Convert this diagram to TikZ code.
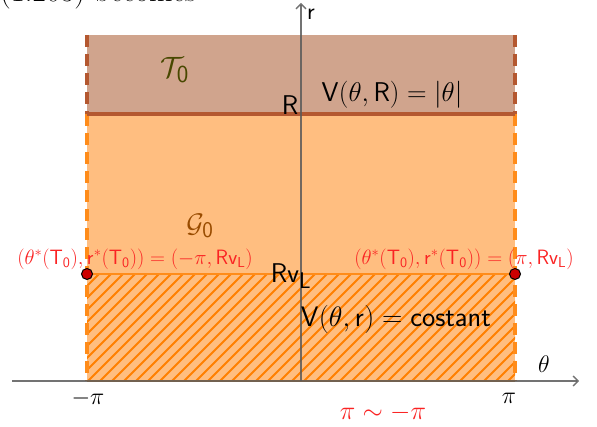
\documentclass[tikz,border=0pt]{standalone}
\usetikzlibrary{arrows.meta}
\definecolor{tfill}{RGB}{208,164,141}
\definecolor{tline}{RGB}{180,88,48}
\definecolor{gfill}{RGB}{255,190,128}
\definecolor{oline}{RGB}{255,140,26}
\definecolor{hatchc}{RGB}{255,128,0}
\definecolor{tlab}{RGB}{72,72,0}
\definecolor{glab}{RGB}{153,76,0}
\definecolor{redlab}{RGB}{250,35,35}
\definecolor{dotc}{RGB}{204,0,0}
\definecolor{axisc}{RGB}{90,90,90}
\tikzset{
  axis/.style={draw=axisc, line width=1.3pt, opacity=0.85, -{Straight Barb[length=5pt,width=10pt]}},
  tdash/.style={draw=tline, line width=3.6pt, dash pattern=on 12pt off 7pt},
  odash/.style={draw=oline, line width=3.6pt, dash pattern=on 12pt off 7pt},
  hatch/.style={draw=hatchc, line width=1.8pt},
  big/.style={font=\fontsize{24.88}{30}\selectfont, inner sep=0pt},
  blk/.style={big, scale=1.09},
  axl/.style={big, scale=0.965},
  redt/.style={font=\fontsize{20.74}{25}\selectfont, text=redlab, inner sep=0pt},
  dot/.style={circle, fill=dotc, draw=black, line width=1pt, minimum size=11pt, inner sep=0pt},
}
\begin{document}
\begin{tikzpicture}[x=1pt,y=-1pt]
\useasboundingbox (0,0) rectangle (597,427);
% clipped text at top
\begin{scope}
\clip (0,0) rectangle (597,427);
\node[big, anchor=base west, scale=1.22] (top) at (0,2) {(1.203) becomes};
\end{scope}
% regions
\fill[tfill] (87,35) rectangle (515,114);
\fill[gfill] (87,114) rectangle (515,381);
\begin{scope}
\clip (87,274) rectangle (515,381);
\foreach \i in {0,...,46} \draw[hatch] ({87+12*\i-107},381) -- ++(107,-107);
\end{scope}
% coordinates
\coordinate (TL) at (87,35);
\coordinate (TR) at (515,35);
\coordinate (RL) at (87,114);
\coordinate (RR) at (515,114);
\coordinate (VL) at (87,274);
\coordinate (VR) at (515,274);
\coordinate (BL) at (87,381);
\coordinate (BR) at (515,381);
% borders
\draw[tdash] (TL) -- (RL);
\draw[tdash] (TR) -- (RR);
\draw[odash] (RL) -- (BL);
\draw[odash] (RR) -- (BR);
\draw[oline, line width=2.2pt] (VL) -- (VR);
\draw[oline, line width=2.2pt] (BL) -- (BR);
\draw[tline, line width=3.6pt] (RL) -- (RR);
% axes
\coordinate (xs) at (12,381);
\coordinate (xe) at (579,381);
\coordinate (ys) at (301,381);
\coordinate (ye) at (301,3);
\draw[axis] (xs) -- (xe);
\draw[axis] (ys) -- (ye);
% dots
\node[dot] (d1) at (VL) {};
\node[dot] (d2) at (VR) {};
% labels
\node[big, scale=1.18, text=tlab] (t0) at (175,70) {$\mathcal{T}_{\mathsf{0}}$};
\node[big, scale=1.08, text=glab] (g0) at (200,226) {$\mathcal{G}_{\mathsf{0}}$};
\node[blk] (rl) at (290,105) {$\mathsf{R}$};
\node[blk] (vr) at (392,95) {$\mathsf{V}(\theta,\mathsf{R})=|\theta|$};
\node[blk] (rv) at (291,276) {$\mathsf{Rv_L}$};
\node[blk, scale=1.04] (vc) at (396,319) {$\mathsf{V}(\theta,\mathsf{r})=\mathsf{costant}$};
\node[redt] (l1) at (135,259) {$(\theta^*(\mathsf{T_0}),\mathsf{r}^*(\mathsf{T_0}))=(-\pi,\mathsf{Rv_L})$};
\node[redt] (l2) at (464,259) {$(\theta^*(\mathsf{T_0}),\mathsf{r}^*(\mathsf{T_0}))=(\pi,\mathsf{Rv_L})$};
\node[axl] (mp) at (88,398) {$-\pi$};
\node[axl] (pp) at (509,398) {$\pi$};
\node[axl] (th) at (544,364) {$\theta$};
\node[axl] (rr) at (311,14) {$\mathsf{r}$};
\node[big, text=redlab, scale=1.05] (eq) at (383,413) {$\pi\sim-\pi$};
\end{tikzpicture}
\end{document}
